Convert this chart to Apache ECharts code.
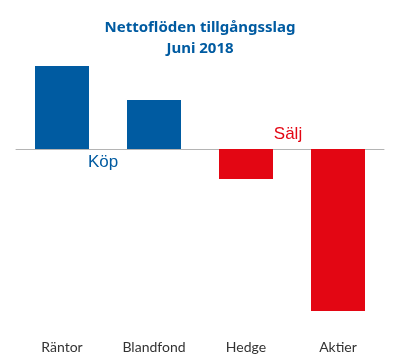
<!DOCTYPE html>
<html><head><meta charset="utf-8">
<script src="https://cdn.jsdelivr.net/npm/echarts@6/dist/echarts.min.js"></script>
<style>html,body{margin:0;padding:0;background:#fff}#c{width:400px;height:364px}</style>
</head><body><div id="c"></div>
<script>
const categories = ['Räntor', 'Blandfond', 'Hedge', 'Aktier'];
const values = [83, 49, -30, -162];
const titleLines = ['Nettoflöden tillgångsslag', 'Juni 2018'];
const BLUE = '#005BA1', RED = '#E30613';
const chart = echarts.init(document.getElementById('c'));
chart.setOption({
  animation: false,
  title: {
    text: titleLines.join('\n'),
    left: 'center', top: 12,
    textStyle: { fontFamily: 'Noto Sans', fontWeight: 'bold', fontSize: 15, lineHeight: 21, color: BLUE }
  },
  grid: { left: 16, right: 16, top: 59, bottom: 45 },
  xAxis: {
    type: 'category', data: categories,
    axisLine: { onZero: true, lineStyle: { color: '#b4b4b4', width: 1 } },
    axisTick: { show: false },
    axisLabel: { position: 'bottom', margin: 21, fontFamily: 'Lato', fontSize: 14, color: '#333' }
  },
  yAxis: { type: 'value', min: -170, max: 90, show: false, splitLine: { show: false } },
  series: [{
    type: 'bar', data: values.map(v => ({ value: v, itemStyle: { color: v >= 0 ? BLUE : RED } })),
    barWidth: 54
  }],
  graphic: [
    { type: 'text', x: 103, y: 162, style: { text: 'Köp', fontFamily: 'Liberation Sans', fontSize: 17, fill: BLUE, textAlign: 'center', textVerticalAlign: 'middle' } },
    { type: 'text', x: 288, y: 134, style: { text: 'Sälj', fontFamily: 'Liberation Sans', fontSize: 17, fill: RED, textAlign: 'center', textVerticalAlign: 'middle' } }
  ]
});
</script></body></html>
